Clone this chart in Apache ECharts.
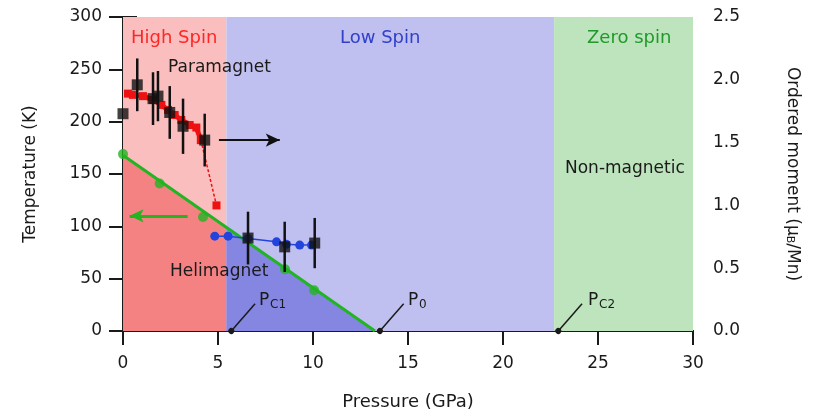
<!DOCTYPE html>
<html><head><meta charset="utf-8">
<script src="https://cdn.jsdelivr.net/npm/echarts@6/dist/echarts.min.js"></script>
<style>html,body{margin:0;padding:0;background:#fff}#c{width:814px;height:412px}</style>
</head><body><div id="c"></div>
<script>
// ---- data ----
const phaseEdges = [0, 5.44, 22.69, 30];          // GPa: high spin | low spin | zero spin
const criticalP = [5.7, 13.52, 22.91];             // Pc1, P0, Pc2 leader feet
const tcPressure = [0, 1.93, 4.21, 8.53, 10.06];   // green points (K)
const tcTemp = [169, 141, 109, 59, 39];
const tcLine = [[0, 168], [13.26, 0]];
const heliHigh = [[0, 168], [5.44, 99]];
const heliLow = [[5.44, 99], [13.26, 0]];
const blackP = [0, 0.75, 1.58, 1.84, 2.46, 3.16, 4.30, 6.58, 8.51, 10.09];
const blackM = [1.73, 1.96, 1.85, 1.87, 1.74, 1.63, 1.52, 0.74, 0.67, 0.70];
const blackErr = [0, 0.21, 0.21, 0.20, 0.21, 0.22, 0.21, 0.21, 0.20, 0.20];
const redP = [0.26, 0.52, 1.05, 1.58, 2.02, 2.37, 2.72, 3.07, 3.51, 3.86, 4.10];
const redM = [1.89, 1.88, 1.87, 1.84, 1.80, 1.76, 1.72, 1.68, 1.64, 1.62, 1.52];
const redTailP = [4.10, 4.92];
const redTailM = [1.52, 1.00];
const blueP = [4.83, 5.53, 6.58, 8.08, 8.60, 9.30, 9.92];
const blueM = [0.755, 0.755, 0.737, 0.71, 0.69, 0.684, 0.684];

const FONT = 'DejaVu Sans';
const INK = '#1a1a1a';
const zip = (a, b) => a.map((v, i) => [v, b[i]]);

const chart = echarts.init(document.getElementById('c'), null, {renderer: 'canvas'});
const axisCommon = {
  axisLine: {show: true, lineStyle: {color: INK, width: 2}},
  axisTick: {show: true, inside: false, length: 14, lineStyle: {color: INK, width: 2}},
  splitLine: {show: false},
  axisLabel: {color: INK, fontFamily: FONT, fontSize: 17},
  nameTextStyle: {color: INK, fontFamily: FONT, fontSize: 17}
};

chart.setOption({
  animation: false,
  grid: {left: 123, right: 121, top: 17, bottom: 81, containLabel: false, outerBoundsMode: 'none'},
  xAxis: [
    Object.assign({}, axisCommon, {
      type: 'value', min: 0, max: 30, interval: 5, position: 'bottom',
      name: 'Pressure (GPa)', nameLocation: 'middle', nameGap: 62,
      axisLabel: Object.assign({}, axisCommon.axisLabel, {margin: 24}),
      nameTextStyle: {color: INK, fontFamily: FONT, fontSize: 18}
    }),
    {type: 'value', min: 0, max: 30, position: 'top', axisLine: {show: true, lineStyle: {color: INK, width: 2}},
     axisTick: {show: false}, axisLabel: {show: false}, splitLine: {show: false}}
  ],
  yAxis: [
    Object.assign({}, axisCommon, {
      type: 'value', min: 0, max: 300, interval: 50, position: 'left',
      name: 'Temperature (K)', nameLocation: 'middle', nameGap: 84,
      axisLabel: Object.assign({}, axisCommon.axisLabel, {margin: 21})
    }),
    Object.assign({}, axisCommon, {
      type: 'value', min: 0, max: 2.5, interval: 0.5, position: 'right',
      name: 'Ordered moment (μ{s|B}/Mn)', nameLocation: 'middle', nameGap: 91, nameRotate: -90,
      nameTextStyle: {color: INK, fontFamily: FONT, fontSize: 17,
        rich: {s: {fontSize: 11, fontFamily: FONT, color: INK, verticalAlign: 'bottom', padding: [6, 0, 0, 0]}}},
      axisLabel: Object.assign({}, axisCommon.axisLabel, {margin: 20, formatter: v => v.toFixed(1)})
    })
  ],
  series: [
    {type: 'line', data: [], z: 1, silent: true,
     markArea: {silent: true, data: [
       [{xAxis: phaseEdges[0], itemStyle: {color: '#fabebe'}}, {xAxis: phaseEdges[1]}],
       [{xAxis: phaseEdges[1], itemStyle: {color: '#bfbff0'}}, {xAxis: phaseEdges[2]}],
       [{xAxis: phaseEdges[2], itemStyle: {color: '#bde4bd'}}, {xAxis: phaseEdges[3]}]
     ]}},
    {type: 'line', data: heliHigh, z: 2, symbol: 'none', silent: true,
     lineStyle: {width: 0}, areaStyle: {color: '#f58282', opacity: 1}},
    {type: 'line', data: heliLow, z: 2, symbol: 'none', silent: true,
     lineStyle: {width: 0}, areaStyle: {color: '#8585e2', opacity: 1}},
    // leader lines for Pc1, P0, Pc2
    {type: 'line', data: [], z: 3, silent: true,
     markLine: {silent: true, animation: false, label: {show: false},
       lineStyle: {color: INK, width: 1.5, type: 'solid'},
       data: criticalP.map(p => [
         {coord: [p, 0], symbol: 'circle', symbolSize: 6},
         {coord: [p + 1.25, 26], symbol: 'none'}
       ])}},
    // green Tc line + arrow
    {type: 'line', data: tcLine, z: 4, symbol: 'none', silent: true,
     lineStyle: {color: '#22b422', width: 3},
     markLine: {silent: true, label: {show: false}, lineStyle: {color: '#22b422', width: 3, type: 'solid'},
       data: [[{coord: [3.4, 110], symbol: 'none'}, {coord: [0.35, 110], symbol: 'arrow', symbolSize: [10, 14]}]]}},
    {type: 'scatter', data: zip(tcPressure, tcTemp), z: 5, symbol: 'circle', symbolSize: 10,
     itemStyle: {color: '#22b422'}},
    // red moment
    {type: 'line', yAxisIndex: 1, data: zip(redP, redM), z: 5, symbol: 'rect', symbolSize: 8,
     lineStyle: {color: '#ee1111', width: 5}, itemStyle: {color: '#ee1111'}},
    {type: 'line', yAxisIndex: 1, data: zip(redTailP, redTailM), z: 5, symbol: 'rect', symbolSize: 8,
     showSymbol: true, lineStyle: {color: '#ee1111', width: 1.5, type: [3, 2]}, itemStyle: {color: '#ee1111'}},
    // blue moment
    {type: 'line', yAxisIndex: 1, data: zip(blueP, blueM), z: 5, symbol: 'circle', symbolSize: 9,
     lineStyle: {color: '#2244dd', width: 1.5}, itemStyle: {color: '#2244dd'}},
    // black error bars
    {type: 'custom', yAxisIndex: 1, z: 6, silent: true,
     data: blackP.map((p, i) => [p, blackM[i], blackErr[i]]),
     renderItem: (params, api) => {
       const e = api.value(2);
       if (!e) return null;
       const a = api.coord([api.value(0), api.value(1) - e]);
       const b = api.coord([api.value(0), api.value(1) + e]);
       return {type: 'line', shape: {x1: a[0], y1: a[1], x2: b[0], y2: b[1]},
               style: {stroke: '#111', lineWidth: 2.5}};
     }},
    {type: 'scatter', yAxisIndex: 1, data: zip(blackP, blackM), z: 7, symbol: 'rect', symbolSize: 11,
     itemStyle: {color: '#111'},
     markLine: {silent: true, label: {show: false}, lineStyle: {color: '#111', width: 2, type: 'solid'},
       data: [[{coord: [5.05, 1.52], symbol: 'none'}, {coord: [8.25, 1.52], symbol: 'arrow', symbolSize: [10, 14]}]]}}
  ],
  graphic: [
    {type: 'text', left: 131, top: 29, z: 100, style: {text: 'High Spin', fill: '#ff2626', font: '18px "DejaVu Sans"'}},
    {type: 'text', left: 340, top: 29, z: 100, style: {text: 'Low Spin', fill: '#3040c8', font: '18px "DejaVu Sans"'}},
    {type: 'text', left: 587, top: 29, z: 100, style: {text: 'Zero spin', fill: '#1f9a2a', font: '18px "DejaVu Sans"'}},
    {type: 'text', left: 168, top: 59, z: 100, style: {text: 'Paramagnet', fill: INK, font: '17px "DejaVu Sans"'}},
    {type: 'text', left: 170, top: 263, z: 100, style: {text: 'Helimagnet', fill: INK, font: '17px "DejaVu Sans"'}},
    {type: 'text', left: 565, top: 160, z: 100, style: {text: 'Non-magnetic', fill: INK, font: '17px "DejaVu Sans"'}},
    {type: 'text', left: 259, top: 292, z: 100, style: {text: 'P', fill: INK, font: '17px "DejaVu Sans"'}},
    {type: 'text', left: 270, top: 299, z: 100, style: {text: 'C1', fill: INK, font: '12px "DejaVu Sans"'}},
    {type: 'text', left: 408, top: 292, z: 100, style: {text: 'P', fill: INK, font: '17px "DejaVu Sans"'}},
    {type: 'text', left: 419, top: 299, z: 100, style: {text: '0', fill: INK, font: '12px "DejaVu Sans"'}},
    {type: 'text', left: 588, top: 292, z: 100, style: {text: 'P', fill: INK, font: '17px "DejaVu Sans"'}},
    {type: 'text', left: 599, top: 299, z: 100, style: {text: 'C2', fill: INK, font: '12px "DejaVu Sans"'}}
  ]
});
</script></body></html>
